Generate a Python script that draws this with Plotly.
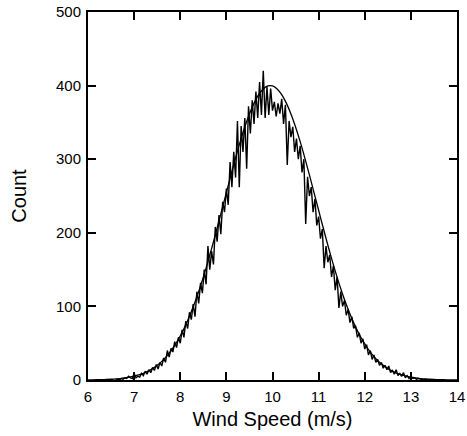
import plotly.graph_objects as go

# Histogram of wind speed (bin centres, step 0.04 m/s)
bin_start = 6.60
bin_step = 0.04
counts = [
    0, 1, 0, 2, 1, 3, 2, 5, 3, 2,
    9, 3, 5, 4, 9, 6, 12, 8, 14, 10,
    17, 13, 21, 15, 24, 19, 30, 24, 40, 31,
    43, 38, 52, 44, 58, 50, 68, 58, 80, 70,
    92, 82, 103, 86, 120, 104, 132, 118, 150, 130,
    182, 150, 175, 157, 208, 188, 224, 198, 242, 228,
    260, 238, 296, 262, 310, 275, 352, 262, 345, 310,
    356, 287, 372, 335, 380, 348, 392, 356, 405, 360,
    420, 356, 398, 360, 396, 366, 378, 358, 376, 362,
    382, 348, 374, 292, 352, 330, 344, 310, 328, 300,
    318, 282, 300, 212, 276, 250, 262, 228, 246, 210,
    222, 192, 205, 152, 182, 160, 170, 140, 155, 122,
    140, 98, 120, 100, 108, 88, 96, 78, 86, 70,
    74, 58, 64, 50, 56, 42, 48, 34, 40, 28,
    34, 24, 28, 20, 24, 16, 20, 14, 19, 10,
    13, 8, 14, 6, 9, 5, 10, 3, 6, 2,
    5, 2, 3, 1, 2, 1, 1, 0, 1, 0,
    0,
]
hist_x = [round(bin_start + bin_step * i, 2) for i in range(len(counts))]

# Fitted curve, sampled every 0.1 m/s from 6 to 14
fit_start = 6.0
fit_step = 0.1
fit_vals = [
    0.2, 0.24, 0.35, 0.5, 0.7, 1.0, 1.5, 2.0, 2.8, 3.8,
    5.2, 6.9, 9.1, 12.0, 15.5, 19.9, 25.3, 31.8, 39.7, 49.0,
    59.8, 72.2, 86.5, 102.5, 120.3, 139.8, 160.8, 183.1, 206.5, 230.6,
    254.7, 278.7, 301.9, 323.8, 343.8, 361.5, 376.2, 387.7, 395.5, 399.5,
    399.5, 395.5, 387.7, 376.2, 361.5, 343.8, 323.8, 301.9, 278.7, 254.7,
    230.6, 206.5, 183.1, 160.8, 139.8, 120.3, 102.5, 86.5, 72.2, 59.8,
    49.0, 39.7, 31.8, 25.3, 19.9, 15.5, 12.0, 9.1, 6.9, 5.2,
    3.8, 2.8, 2.0, 1.5, 1.0, 0.7, 0.5, 0.35, 0.24, 0.16,
    0.1,
]
fit_x = [round(fit_start + fit_step * i, 2) for i in range(len(fit_vals))]

x_ticks = [6, 7, 8, 9, 10, 11, 12, 13, 14]
y_ticks = [0, 100, 200, 300, 400, 500]

fig = go.Figure()
fig.add_trace(go.Scatter(x=hist_x, y=counts, mode="lines",
                         line=dict(color="black", width=1.4),
                         showlegend=False))
fig.add_trace(go.Scatter(x=fit_x, y=fit_vals, mode="lines",
                         line=dict(color="black", width=1.3, shape="spline"),
                         showlegend=False))

font = "Liberation Sans, Arial, sans-serif"
fig.update_layout(
    width=467, height=436,
    margin=dict(l=88, r=10, t=12, b=56, autoexpand=False),
    paper_bgcolor="white", plot_bgcolor="white",
    font=dict(family=font, color="black", size=15),
)
fig.update_xaxes(
    range=[6, 14], tickvals=x_ticks, ticktext=[str(v) for v in x_ticks],
    ticks="inside", ticklen=8, tickwidth=1.5, tickcolor="black",
    showline=True, linewidth=2, linecolor="black", mirror="ticks",
    showgrid=False, zeroline=False, automargin=False,
    ticklabeloverflow="allow",
    tickfont=dict(size=15, family=font), ticklabelstandoff=2,
    title=dict(text="Wind Speed (m/s)", font=dict(size=20, family=font), standoff=8),
)
fig.update_yaxes(
    range=[0, 500], tickvals=y_ticks, ticktext=[str(v) for v in y_ticks],
    ticks="inside", ticklen=8, tickwidth=1.5, tickcolor="black",
    showline=True, linewidth=2, linecolor="black", mirror="ticks",
    showgrid=False, zeroline=False, automargin=False,
    ticklabeloverflow="allow",
    tickfont=dict(size=15, family=font), ticklabelstandoff=2,
    title=dict(text="Count", font=dict(size=20, family=font), standoff=24),
)

# remove the default page margin so the figure fills the window exactly
fig.write_html("out.html", config={"displayModeBar": False},
               post_script="document.body.style.margin='0';")
